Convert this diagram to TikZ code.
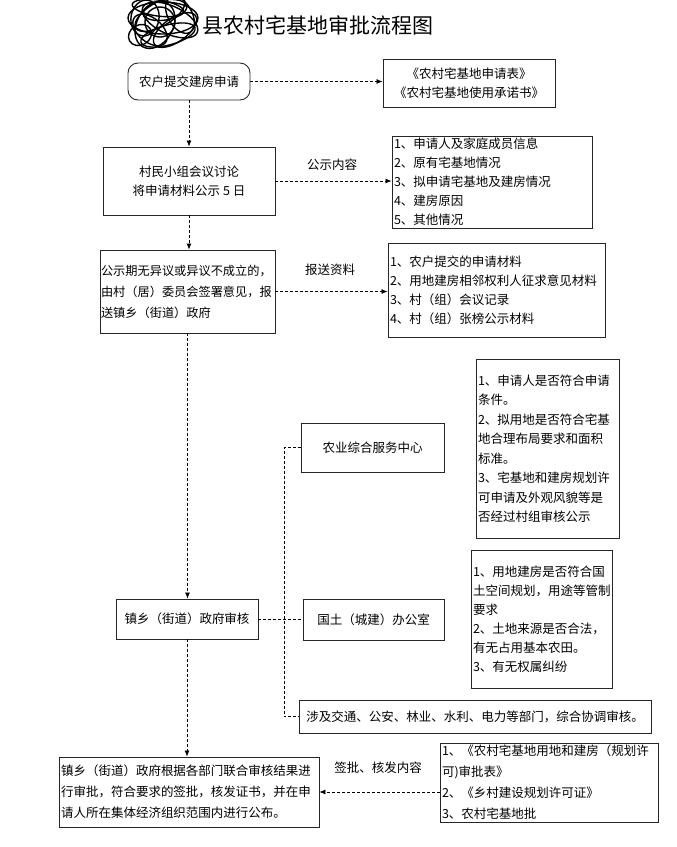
\documentclass[tikz,border=0pt]{standalone}
\usepackage{fontspec}
\setmainfont{Noto Sans CJK SC}
\usetikzlibrary{arrows.meta}
\begin{document}
\begin{tikzpicture}[x=1pt,y=-1pt,
    box/.style={draw=black!85,line width=0.9pt,inner sep=2pt,align=center,
        font=\fontsize{12.5}{19}\selectfont},
    listbox/.style={box,align=left},
    link/.style={densely dashed,line width=0.7pt},
    arr/.style={link,-{Latex[length=6pt,width=5pt]}},
    lbl/.style={font=\fontsize{12.5}{15}\selectfont}]

    \useasboundingbox (0,0) rectangle (677,847);

    % title
    \node (title) at (318,25) {\fontsize{21}{24}\selectfont 县农村宅基地审批流程图};
    \foreach \cx/\cy/\rx/\ry/\a in {163/18/35/16/0,160/14/28/12/30,170/20/30/14/-25,
        155/25/25/18/60,165/10/22/10/10,150/30/20/12/-40,175/30/25/12/35,160/22/15/15/0,
        145/18/18/14/80,180/15/20/12/-60,168/35/28/10/15,140/35/12/10/30,158/8/26/8/-8}
        \draw[line width=1.4pt,rotate around={\a:(\cx,\cy)}] (\cx,\cy) ellipse [x radius=\rx,y radius=\ry];

    % main column
    \node[box,rounded corners=10pt,minimum width=122,minimum height=37] (apply) at (189,81.5) {农户提交建房申请};
    \node[box,minimum width=172,minimum height=68] (meet) at (189,181) {村民小组会议讨论\\将申请材料公示 5 日};
    \node[listbox,text width=173,minimum height=83,inner sep=1pt,
        font=\fontsize{12.2}{21}\selectfont] (report) at (187.5,291.5)
        {公示期无异议或异议不成立的，\\由村（居）委员会签署意见，报\\送镇乡（街道）政府};
    \node[box,minimum width=142,minimum height=40] (town) at (187,619) {镇乡（街道）政府审核};
    \node[listbox,text width=256,minimum height=70,font=\fontsize{12.5}{21}\selectfont] (issue) at (189,792)
        {镇乡（街道）政府根据各部门联合审核结果进\\行审批，符合要求的签批，核发证书，并在申\\请人所在集体经济组织范围内进行公布。};

    % right column
    \node[box,minimum width=172,minimum height=48] (forms) at (469,83) {《农村宅基地申请表》\\《农村宅基地使用承诺书》};
    \node[listbox,text width=196,minimum height=92] (notice) at (492,182)
        {1、申请人及家庭成员信息\\2、原有宅基地情况\\3、拟申请宅基地及建房情况\\4、建房原因\\5、其他情况};
    \node[listbox,text width=213,minimum height=94] (files) at (496.5,290)
        {1、农户提交的申请材料\\2、用地建房相邻权利人征求意见材料\\3、村（组）会议记录\\4、村（组）张榜公示材料};
    \node[box,minimum width=143,minimum height=49] (agri) at (372.5,447.5) {农业综合服务中心};
    \node[listbox,text width=139,minimum height=179,font=\fontsize{12.5}{19.5}\selectfont] (agrinote) at (547.5,448.5)
        {1、申请人是否符合申请\\条件。\\2、拟用地是否符合宅基\\地合理布局要求和面积\\标准。\\3、宅基地和建房规划许\\可申请及外观风貌等是\\否经过村组审核公示};
    \node[box,minimum width=141,minimum height=41] (land) at (373.5,619.5) {国土（城建）办公室};
    \node[listbox,text width=137,minimum height=138] (landnote) at (541.5,619)
        {1、用地建房是否符合国\\土空间规划，用途等管制\\要求\\2、土地来源是否合法，\\有无占用基本农田。\\3、有无权属纠纷};
    \node[box,minimum width=352,minimum height=33] (depts) at (475,716.5)
        {涉及交通、公安、林业、水利、电力等部门，综合协调审核。};
    \node[listbox,text width=214,minimum height=79,font=\fontsize{12.5}{21}\selectfont] (permit) at (549,782.5)
        {1、《农村宅基地用地和建房（规划许\\可)审批表》\\2、《乡村建设规划许可证》\\3、农村宅基地批};

    % labels
    \node[lbl] (lblnotice) at (332,165) {公示内容};
    \node[lbl] (lblfiles) at (330,270) {报送资料};
    \node[lbl] (lblpermit) at (378,768) {签批、核发内容};

    % connectors
    \draw[arr] (apply.east) -- (apply.east -| forms.west);
    \draw[arr] (apply) -- (meet);
    \draw[arr] (meet.east) -- (meet.east -| notice.west);
    \draw[arr] (meet.south) -- (meet.south |- report.north);
    \draw[arr] (report.east) -- (report.east -| files.west);
    \draw[arr] (report.south) -- (report.south |- town.north);
    \draw[link] (town.east) -- (town.east -| land.west);
    \coordinate (rail) at (284,0);
    \draw[link] (agri.west) -- (agri.west -| rail) |- (depts.west);
    \draw[arr] (town.south) -- (town.south |- issue.north);
    \draw[arr] (issue.east -| permit.west) -- (issue.east);

\end{tikzpicture}
\end{document}
